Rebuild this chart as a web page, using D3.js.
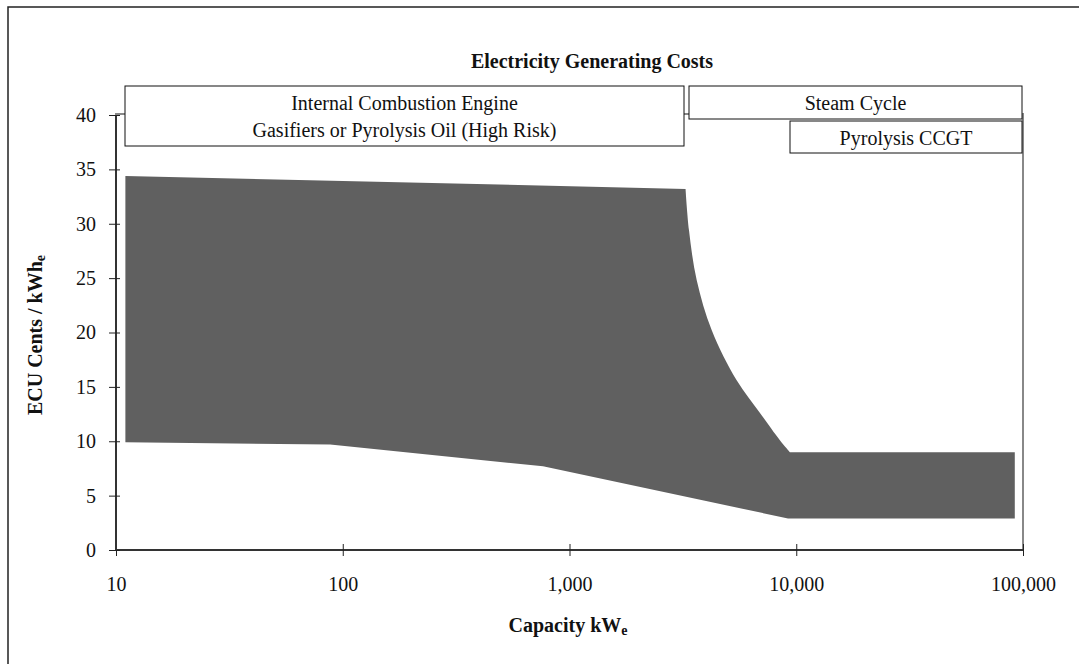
<!DOCTYPE html>
<html>
<head>
<meta charset="utf-8">
<script src="https://cdn.jsdelivr.net/npm/d3@7"></script>
<style>
    body { margin: 0; background: #fff; }
    text { font-family: "Liberation Serif", "Times New Roman", serif; fill: #111; }
</style>
</head>
<body>
<svg id="chart" width="1079" height="664"></svg>
<script>
'use strict';

// capacity ticks (kWe) and cost ticks (ECU cents / kWhe)
var capTicks = [10, 100, 1000, 10000, 100000];
var costTicks = [0, 5, 10, 15, 20, 25, 30, 35, 40];

// upper edge of the cost band, small engines
var upperCap = [11, 3250];
var upperCost = [34.4, 33.2];
// the drop from engines to steam cycle
var curveCap = [3250, 3365, 3640, 4240, 5460, 6920, 8470, 9380];
var curveCost = [33.2, 29.4, 24.8, 20.2, 15.6, 12.6, 10.1, 9.0];
// large plant band
var flatCap = [9380, 92000];
var flatCost = [9.0, 9.0];
// lower edge of the band
var lowerCap = [11, 88, 764, 9200, 92000];
var lowerCost = [9.9, 9.7, 7.7, 2.9, 2.9];

var regimeLabels = [
    ["Internal Combustion Engine", "Gasifiers or Pyrolysis Oil (High Risk)"],
    ["Steam Cycle"],
    ["Pyrolysis CCGT"]
];

var svg = d3.select("#chart");
var width = 1079, height = 664;

var x = d3.scaleLog().domain([10, 100000]).range([116, 1023]);
var y = d3.scaleLinear().domain([0, 40]).range([550, 115]);

// outer frame (runs off right and bottom)
svg.append("rect")
    .attr("x", 8).attr("y", 7)
    .attr("width", width + 20).attr("height", height + 20)
    .attr("fill", "none").attr("stroke", "#222").attr("stroke-width", 1.5);

// plot area frame
svg.append("rect")
    .attr("x", x(10)).attr("y", y(40) - 1)
    .attr("width", x(100000) - x(10)).attr("height", y(0) - y(40) + 1)
    .attr("fill", "none").attr("stroke", "#888").attr("stroke-width", 2);

function pts(xs, ys) {
    return xs.map(function(d, i) { return [x(d), y(ys[i])]; });
}

var lin = d3.line();
var smooth = d3.line().curve(d3.curveCatmullRom.alpha(0.5));

var top1 = lin(pts(upperCap, upperCost));
var drop = smooth(pts(curveCap, curveCost)).replace(/^M/, "L");
var flat = lin(pts(flatCap, flatCost)).replace(/^M/, "L");
var low = lin(pts(lowerCap.slice().reverse(), lowerCost.slice().reverse())).replace(/^M/, "L");

svg.append("path")
    .attr("d", top1 + drop + flat + low + "Z")
    .attr("fill", "#606060");

// axes
var xAxis = svg.append("g")
    .attr("transform", "translate(0," + y(0) + ")")
    .call(d3.axisBottom(x).tickValues(capTicks).tickFormat(d3.format(",")).tickSize(6).tickPadding(21));
xAxis.selectAll(".tick line").attr("y1", -6).attr("y2", 6).attr("stroke", "#222");
xAxis.select(".domain").attr("stroke", "#333").attr("stroke-width", 2).attr("d", "M" + x(10) + ",0H" + x(100000));
xAxis.selectAll(".tick text").attr("font-size", 20).attr("fill", "#111");

var yAxis = svg.append("g")
    .attr("transform", "translate(" + x(10) + ",0)")
    .call(d3.axisLeft(y).tickValues(costTicks).tickSize(6).tickPadding(14));
yAxis.selectAll(".tick line").attr("x1", -7).attr("x2", 4).attr("stroke", "#222");
yAxis.select(".domain").attr("stroke", "#333").attr("stroke-width", 2).attr("d", "M0," + y(0) + "V" + y(40));
yAxis.selectAll(".tick text").attr("font-size", 20).attr("fill", "#111");

// title
svg.append("text")
    .attr("x", 592).attr("y", 68)
    .attr("text-anchor", "middle")
    .attr("font-size", 20).attr("font-weight", "bold")
    .text("Electricity Generating Costs");

// regime boxes
var boxes = [
    {x0: 125, y0: 86, x1: 684, y1: 146},
    {x0: 689, y0: 86, x1: 1022, y1: 119},
    {x0: 790, y0: 121, x1: 1022, y1: 153}
];
boxes.forEach(function(b, i) {
    svg.append("rect")
        .attr("x", b.x0).attr("y", b.y0)
        .attr("width", b.x1 - b.x0).attr("height", b.y1 - b.y0)
        .attr("fill", "#fff").attr("stroke", "#111").attr("stroke-width", 1);
    regimeLabels[i].forEach(function(t, j) {
        svg.append("text")
            .attr("x", (b.x0 + b.x1) / 2)
            .attr("y", b.y0 + 24 + j * 27)
            .attr("text-anchor", "middle")
            .attr("font-size", 20)
            .text(t);
    });
});

// axis titles
var xt = svg.append("text")
    .attr("x", 568).attr("y", 632)
    .attr("text-anchor", "middle")
    .attr("font-size", 20).attr("font-weight", "bold");
xt.append("tspan").text("Capacity kW");
xt.append("tspan").attr("font-size", 14).attr("dy", 3).text("e");

var yt = svg.append("text")
    .attr("transform", "translate(42,335) rotate(-90)")
    .attr("text-anchor", "middle")
    .attr("font-size", 20).attr("font-weight", "bold");
yt.append("tspan").text("ECU Cents / kWh");
yt.append("tspan").attr("font-size", 14).attr("dy", 3).text("e");
</script>
</body>
</html>
